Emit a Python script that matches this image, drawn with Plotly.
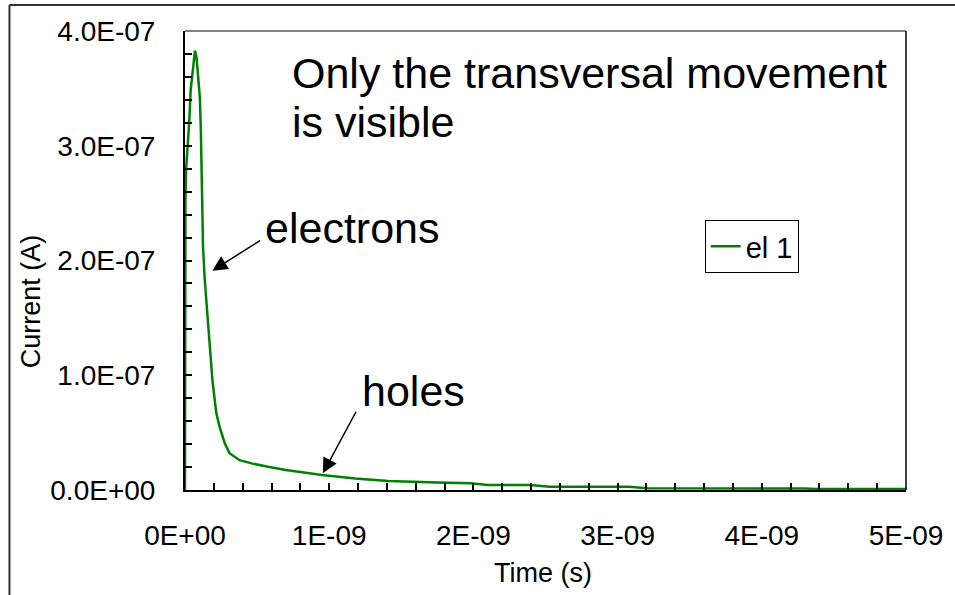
import plotly.graph_objects as go

# Induced current on electrode 1 (time in ns, current in 1e-7 A)
time_ns = [0.000, 0.000, 0.003, 0.007, 0.023, 0.030, 0.039, 0.046, 0.053, 0.062,
           0.069, 0.080, 0.091, 0.103, 0.110, 0.115, 0.121, 0.125, 0.137, 0.153,
           0.172, 0.190, 0.217, 0.240, 0.275, 0.309, 0.378, 0.469, 0.584, 0.699,
           0.950, 1.180, 1.410, 1.640, 1.750, 1.980, 2.100, 2.390, 2.530, 3.080,
           3.200, 4.300, 4.380, 5.000]
current_e7 = [0.000, 2.370, 2.520, 2.780, 3.040, 3.220, 3.480, 3.570, 3.680, 3.770,
              3.830, 3.770, 3.630, 3.420, 3.130, 2.840, 2.410, 2.120, 1.830, 1.540,
              1.250, 0.960, 0.670, 0.550, 0.410, 0.320, 0.260, 0.230, 0.200, 0.174,
              0.130, 0.100, 0.078, 0.067, 0.065, 0.058, 0.043, 0.043, 0.029, 0.029,
              0.015, 0.012, 0.009, 0.009]

x_tick_vals = [0, 1e-9, 2e-9, 3e-9, 4e-9, 5e-9]
x_tick_text = ["0E+00", "1E-09", "2E-09", "3E-09", "4E-09", "5E-09"]
y_tick_vals = [0, 1e-7, 2e-7, 3e-7, 4e-7]
y_tick_text = ["0.0E+00", "1.0E-07", "2.0E-07", "3.0E-07", "4.0E-07"]

time_s = [t * 1e-9 for t in time_ns]
current_a = [c * 1e-7 for c in current_e7]

FONT = "Liberation Sans, Arial, sans-serif"
W, H = 955, 595
L, R, T, B = 185, 43, 31, 105
PW, PH = W - L - R, H - T - B


def px(xp):
    return (xp - L) / PW


def py(yp):
    return (H - B - yp) / PH


fig = go.Figure()
fig.add_trace(go.Scatter(
    x=time_s, y=current_a, mode="lines", name="el 1",
    line=dict(color="#008000", width=2.5),
))

axis_common = dict(
    showgrid=False, zeroline=False, showline=True, linecolor="black", linewidth=2,
    ticks="inside", ticklen=7, tickwidth=1.5, tickcolor="black",
    tickfont=dict(family=FONT, size=28, color="black"),
)

fig.update_xaxes(
    range=[0, 5e-9], tickmode="array", tickvals=x_tick_vals, ticktext=x_tick_text,
    ticklabelstandoff=19,
    minor=dict(ticks="inside", ticklen=7, tickwidth=1.5, tickcolor="black",
               tickmode="linear", tick0=0, dtick=0.2e-9),
    **axis_common,
)
fig.update_yaxes(
    range=[0, 4e-7], tickmode="array", tickvals=y_tick_vals, ticktext=y_tick_text,
    ticklabelstandoff=22,
    minor=dict(ticks="inside", ticklen=7, tickwidth=1.5, tickcolor="black",
               tickmode="linear", tick0=0, dtick=0.2e-7),
    **axis_common,
)

big = dict(family=FONT, size=43, color="black")
title_font = dict(family=FONT, size=27, color="black")

annotations = [
    dict(xref="paper", yref="paper", x=px(291), y=py(72.5), text="Only the transversal movement",
         xanchor="left", yanchor="middle", showarrow=False, font=big),
    dict(xref="paper", yref="paper", x=px(291), y=py(122), text="is visible",
         xanchor="left", yanchor="middle", showarrow=False, font=big),
    dict(xref="paper", yref="paper", x=px(264), y=py(228.5), text="electrons",
         xanchor="left", yanchor="middle", showarrow=False, font=big),
    dict(xref="paper", yref="paper", x=px(361), y=py(390.5), text="holes",
         xanchor="left", yanchor="middle", showarrow=False, font=big),
    # arrows pointing at the electron and hole contributions
    dict(x=0.19e-9, y=1.911e-7, xref="x", yref="y", ax=49, ay=-31, text="",
         showarrow=True, arrowhead=2, arrowsize=2, arrowwidth=1.5, arrowcolor="black",
         standoff=0, startstandoff=0),
    dict(x=0.956e-9, y=0.146e-7, xref="x", yref="y", ax=34, ay=-63, text="",
         showarrow=True, arrowhead=2, arrowsize=2, arrowwidth=1.5, arrowcolor="black",
         standoff=0, startstandoff=0),
    dict(xref="paper", yref="paper", x=px(546), y=py(573), text="Time (s)",
         xanchor="center", yanchor="middle", showarrow=False, font=title_font),
    dict(xref="paper", yref="paper", x=px(30), y=py(301), text="Current (A)", textangle=-90,
         xanchor="center", yanchor="middle", showarrow=False, font=title_font),
]

shapes = [
    # plot-area border (top gray, right black)
    dict(type="line", xref="paper", yref="paper", x0=0, x1=1, y0=1, y1=1,
         line=dict(color="#808080", width=2)),
    dict(type="line", xref="paper", yref="paper", x0=1, x1=1, y0=0, y1=1,
         line=dict(color="black", width=1.5)),
    # outer chart frame
    dict(type="line", xref="paper", yref="paper", x0=px(8), x1=px(8), y0=py(5), y1=py(640),
         line=dict(color="#333333", width=2)),
    dict(type="line", xref="paper", yref="paper", x0=px(8), x1=px(1000), y0=py(5), y1=py(5),
         line=dict(color="#333333", width=2)),
]

fig.update_layout(
    width=W, height=H,
    margin=dict(l=L, r=R, t=T, b=B, pad=0),
    paper_bgcolor="white", plot_bgcolor="white",
    font=dict(family=FONT, color="black"),
    showlegend=True,
    legend=dict(x=px(709), y=py(220), xanchor="left", yanchor="top",
                bordercolor="black", borderwidth=1, bgcolor="white",
                font=dict(family=FONT, size=29, color="black"),
                itemwidth=30, tracegroupgap=0),
    annotations=annotations,
    shapes=shapes,
)

fig.write_html("out.html")
